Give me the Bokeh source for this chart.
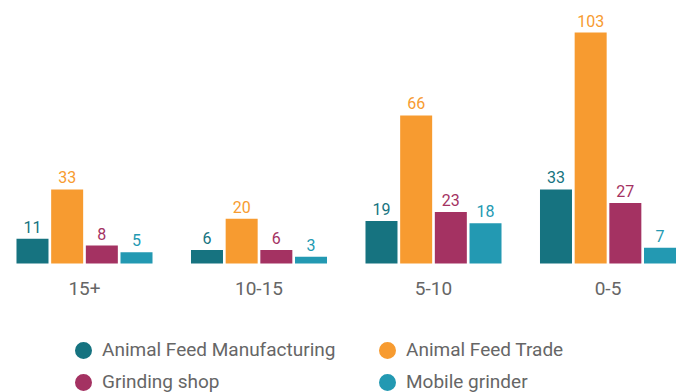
from bokeh.plotting import figure
from bokeh.models import ColumnDataSource, Range1d, Legend, LegendItem
from bokeh.core.properties import value
from bokeh.embed import file_html
from bokeh.resources import INLINE

categories = ["15+", "10-15", "5-10", "0-5"]
series_names = ["Animal Feed Manufacturing", "Animal Feed Trade", "Grinding shop", "Mobile grinder"]
manufacturing = [11, 6, 19, 33]
trade = [33, 20, 66, 103]
grinding = [8, 6, 23, 27]
mobile = [5, 3, 18, 7]
colors = ["#167380", "#F79B30", "#A43262", "#2399B2"]

series_values = [manufacturing, trade, grinding, mobile]

FONT = "Roboto"
W, H = 684, 392
ppu_x = 174.5
ppu_y = 231 / 103.0
x0_px = 84.0
base_px = 263.0

p = figure(width=W, height=H, output_backend="svg", toolbar_location=None,
           x_axis_type=None, y_axis_type=None, min_border=0,
           x_range=Range1d(-x0_px / ppu_x, (W - x0_px) / ppu_x),
           y_range=Range1d(-(H - base_px) / ppu_y, base_px / ppu_y))
p.outline_line_color = None
p.xgrid.visible = False
p.ygrid.visible = False
p.background_fill_color = "white"
p.border_fill_color = "white"

pitch = 0.1987
bar_w = 0.1834

legend_items = {}
for j, (name, vals, col) in enumerate(zip(series_names, series_values, colors)):
    xs = [i + (j - 1.5) * pitch for i in range(len(categories))]
    src = ColumnDataSource(dict(x=xs, top=vals, label=[str(v) for v in vals]))
    p.vbar(x="x", top="top", width=bar_w, bottom=0, source=src,
           fill_color=col, line_color=None)
    p.text(x="x", y="top", text="label", source=src, text_align="center",
           text_baseline="bottom", y_offset=-6, text_color=col,
           text_font=value(FONT), text_font_size="16px")
    # legend-only marker (no visible data point)
    dot = p.scatter(x=[float("nan")], y=[float("nan")], marker="circle", size=8,
                    fill_color=col, line_color=col, line_width=9)
    legend_items[name] = LegendItem(label=name, renderers=[dot])

cat_src = ColumnDataSource(dict(x=list(range(len(categories))),
                                y=[-(288 - base_px) / ppu_y] * len(categories),
                                t=categories))
p.text(x="x", y="y", text="t", source=cat_src, text_align="center",
       text_baseline="middle", text_color="#666666",
       text_font=value(FONT), text_font_size="19px")

def make_legend(names, loc):
    lg = Legend(items=[legend_items[n] for n in names], location=loc,
                orientation="vertical", glyph_width=20, glyph_height=20,
                label_height=20, spacing=9, label_standoff=9, padding=0,
                margin=0, border_line_color=None, background_fill_alpha=0,
                label_text_font=FONT, label_text_font_size="19px",
                label_text_color="#666666")
    p.add_layout(lg, "center")

make_legend([series_names[0], series_names[2]], (73, -1))
make_legend([series_names[1], series_names[3]], (377, -1))

open("out.html", "w").write(file_html(p, INLINE))
